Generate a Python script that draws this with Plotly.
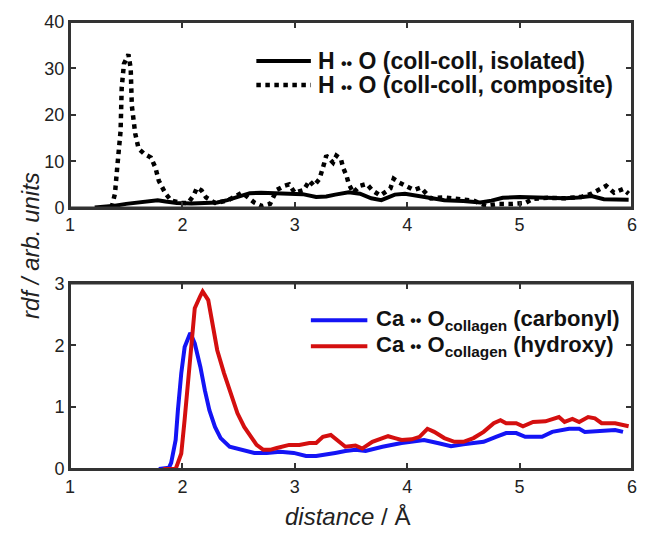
import plotly.graph_objects as go

# ---- data ----
iso_x = [1.22, 1.30, 1.40, 1.50, 1.60, 1.70, 1.78, 1.85, 1.95, 2.08, 2.20, 2.31, 2.40, 2.50, 2.60, 2.70,
         2.84, 2.95, 3.07, 3.19, 3.28, 3.36, 3.48, 3.58, 3.68, 3.77, 3.89, 3.98, 4.08, 4.20, 4.33, 4.50,
         4.65, 4.75, 4.85, 5.00, 5.12, 5.25, 5.40, 5.52, 5.64, 5.75, 5.85, 5.97]
iso_y = [0.0, 0.1, 0.4, 0.8, 1.1, 1.4, 1.6, 1.3, 1.0, 0.9, 0.9, 1.1, 1.6, 2.4, 3.1, 3.2,
         3.1, 3.0, 2.9, 2.3, 2.4, 2.8, 3.3, 3.0, 2.0, 1.6, 2.8, 3.0, 2.6, 2.0, 1.6, 1.4,
         1.1, 1.5, 2.1, 2.3, 2.2, 2.1, 2.0, 2.2, 2.5, 1.8, 1.7, 1.7]

comp_x = [1.37, 1.40, 1.42, 1.45, 1.46, 1.48, 1.52, 1.54, 1.55, 1.58, 1.61, 1.66, 1.72, 1.76, 1.79, 1.85,
          1.90, 1.99, 2.05, 2.10, 2.13, 2.17, 2.21, 2.29, 2.40, 2.53, 2.64, 2.71, 2.78, 2.84, 2.91, 2.95,
          3.00, 3.08, 3.13, 3.17, 3.22, 3.24, 3.26, 3.28, 3.34, 3.37, 3.41, 3.43, 3.46, 3.48, 3.52, 3.58,
          3.64, 3.69, 3.76, 3.85, 3.88, 3.93, 4.00, 4.06, 4.12, 4.21, 4.33, 4.48, 4.59, 4.70, 4.82, 4.94,
          5.05, 5.12, 5.25, 5.40, 5.55, 5.64, 5.70, 5.77, 5.84, 5.92, 5.97]
comp_y = [0.0, 3.0, 8.6, 16.5, 25.8, 31.0, 33.0, 30.0, 22.0, 16.0, 12.7, 11.6, 10.8, 8.6, 5.8, 3.0,
          1.5, 1.0, 1.0, 2.6, 4.3, 3.7, 2.2, 1.0, 1.5, 3.2, 1.1, 0.3, 0.8, 3.8, 4.7, 5.0,
          3.2, 3.8, 5.8, 4.7, 6.2, 7.5, 9.4, 11.2, 9.7, 11.2, 10.5, 8.6, 6.9, 5.1, 3.2, 4.7,
          5.1, 3.7, 2.6, 4.1, 6.2, 5.4, 4.5, 3.8, 4.3, 2.0, 2.2, 1.7, 1.5, 0.4, 0.8, 0.8,
          1.0, 1.9, 2.1, 2.0, 2.3, 3.0, 3.7, 4.7, 3.2, 4.0, 3.0]

carb_x = [1.79, 1.88, 1.90, 1.94, 1.96, 1.99, 2.02, 2.05, 2.07, 2.11, 2.16, 2.20, 2.24, 2.29, 2.34, 2.42,
          2.52, 2.64, 2.75, 2.87, 2.99, 3.10, 3.19, 3.28, 3.36, 3.45, 3.54, 3.63, 3.78, 3.95, 4.15, 4.27,
          4.39, 4.50, 4.68, 4.79, 4.88, 4.97, 5.05, 5.20, 5.29, 5.44, 5.53, 5.58, 5.67, 5.76, 5.85, 5.92]
carb_y = [0.0, 0.02, 0.1, 0.47, 0.95, 1.55, 1.97, 2.13, 2.2, 2.03, 1.65, 1.27, 0.95, 0.68, 0.5, 0.36,
          0.31, 0.26, 0.26, 0.28, 0.26, 0.21, 0.21, 0.23, 0.26, 0.29, 0.31, 0.29, 0.36, 0.42, 0.47, 0.42,
          0.37, 0.4, 0.44, 0.52, 0.58, 0.58, 0.52, 0.52, 0.6, 0.65, 0.65, 0.6, 0.61, 0.63, 0.63, 0.6]

hyd_x = [1.83, 1.94, 1.96, 1.99, 2.02, 2.05, 2.08, 2.11, 2.16, 2.18, 2.23, 2.27, 2.31, 2.37, 2.43, 2.49,
         2.55, 2.61, 2.66, 2.72, 2.78, 2.84, 2.88, 2.95, 3.04, 3.13, 3.19, 3.25, 3.32, 3.39, 3.45, 3.54,
         3.60, 3.69, 3.83, 3.89, 3.95, 4.04, 4.11, 4.18, 4.24, 4.33, 4.42, 4.50, 4.59, 4.68, 4.77, 4.83,
         4.88, 4.97, 5.03, 5.12, 5.23, 5.35, 5.40, 5.47, 5.53, 5.61, 5.67, 5.73, 5.85, 5.97]
hyd_y = [0.0, 0.0, 0.1, 0.25, 0.8, 1.43, 2.08, 2.6, 2.8, 2.87, 2.73, 2.3, 1.92, 1.55, 1.23, 0.9,
         0.68, 0.52, 0.39, 0.31, 0.31, 0.34, 0.36, 0.39, 0.39, 0.42, 0.42, 0.52, 0.55, 0.44, 0.36, 0.38,
         0.33, 0.44, 0.53, 0.5, 0.47, 0.48, 0.52, 0.65, 0.6, 0.5, 0.44, 0.44, 0.5, 0.6, 0.74, 0.79,
         0.74, 0.74, 0.69, 0.76, 0.77, 0.84, 0.76, 0.81, 0.76, 0.84, 0.82, 0.74, 0.74, 0.69]

x_ticks = [1, 2, 3, 4, 5, 6]
top_y_ticks = [0, 10, 20, 30, 40]
bot_y_ticks = [0, 1, 2, 3]

DOTS = "<span style='font-size:16px'>••</span>"
top_labels = ["H " + DOTS + " O (coll-coll, isolated)",
              "H " + DOTS + " O (coll-coll, composite)"]
bot_labels = ["Ca " + DOTS + " O<sub>collagen</sub> (carbonyl)",
              "Ca " + DOTS + " O<sub>collagen</sub> (hydroxy)"]

BLUE = "#1414F5"
RED = "#D40F0F"
FONT = "Arial, Liberation Sans, Helvetica, sans-serif"

fig = go.Figure()
fig.add_trace(go.Scatter(x=iso_x, y=iso_y, mode="lines", line=dict(color="black", width=4),
                         xaxis="x", yaxis="y", showlegend=False))
fig.add_trace(go.Scatter(x=comp_x, y=comp_y, mode="lines", line=dict(color="black", width=4.5, dash="dot"),
                         xaxis="x", yaxis="y", showlegend=False))
fig.add_trace(go.Scatter(x=carb_x, y=carb_y, mode="lines", line=dict(color=BLUE, width=4),
                         xaxis="x2", yaxis="y2", showlegend=False))
fig.add_trace(go.Scatter(x=hyd_x, y=hyd_y, mode="lines", line=dict(color=RED, width=4),
                         xaxis="x2", yaxis="y2", showlegend=False))

axis_common = dict(showline=True, linecolor="#333333", linewidth=2, mirror="ticks",
                   ticks="inside", ticklen=6, tickcolor="#333333", tickwidth=1.5,
                   showgrid=False, zeroline=False,
                   tickfont=dict(family=FONT, size=18, color="#222222"))

# page body has an 8px margin -> figure offset so the plot areas land at the reference pixels
fig.update_layout(
    width=633, height=526,
    margin=dict(l=62, r=4, t=13, b=65),
    plot_bgcolor="white", paper_bgcolor="white",
    xaxis=dict(domain=[0, 1], range=[1, 6], tickvals=x_ticks, anchor="y", **axis_common),
    yaxis=dict(domain=[0.5848, 1], range=[0, 40], tickvals=top_y_ticks, anchor="x", **axis_common),
    xaxis2=dict(domain=[0, 1], range=[1, 6], tickvals=x_ticks, anchor="y2", **axis_common),
    yaxis2=dict(domain=[0, 0.4152], range=[0, 3], tickvals=bot_y_ticks, anchor="x2", **axis_common),
)

# frames and legend samples (decoration)
shapes = [
    dict(type="rect", xref="x domain", yref="y domain", x0=0, x1=1, y0=0, y1=1,
         line=dict(color="#333333", width=2), layer="above"),
    dict(type="rect", xref="x2 domain", yref="y2 domain", x0=0, x1=1, y0=0, y1=1,
         line=dict(color="#333333", width=2), layer="above"),
]
leg_rows_top = [(0.9129, dict(color="black", width=4)), (0.859, dict(color="black", width=4.5, dash="dot"))]
for (yy, ln) in leg_rows_top:
    shapes.append(dict(type="line", xref="paper", yref="paper", x0=0.3316, x1=0.4286, y0=yy, y1=yy, line=ln))
leg_rows_bot = [(0.3326, dict(color=BLUE, width=4)), (0.2746, dict(color=RED, width=4))]
for (yy, ln) in leg_rows_bot:
    shapes.append(dict(type="line", xref="paper", yref="paper", x0=0.4286, x1=0.5291, y0=yy, y1=yy, line=ln))
fig.update_layout(shapes=shapes)

ann = []
for lab, yy in zip(top_labels, [0.9129, 0.859]):
    ann.append(dict(text="<b>" + lab + "</b>", xref="paper", yref="paper", x=0.4374, y=yy,
                    xanchor="left", yanchor="middle", showarrow=False,
                    font=dict(family=FONT, size=23, color="#111111")))
for lab, yy in zip(bot_labels, [0.3326, 0.2746]):
    ann.append(dict(text="<b>" + lab + "</b>", xref="paper", yref="paper", x=0.5414, y=yy,
                    xanchor="left", yanchor="middle", showarrow=False,
                    font=dict(family=FONT, size=22, color="#111111")))
ann.append(dict(text="<i>rdf / arb. units</i>", xref="paper", yref="paper", x=-0.0705, y=0.5,
                xanchor="center", yanchor="middle", textangle=-90, showarrow=False,
                font=dict(family=FONT, size=24, color="#222222")))
ann.append(dict(text="<i>distance</i> / Å", xref="paper", yref="paper", x=0.4938, y=-0.1071,
                xanchor="center", yanchor="middle", showarrow=False,
                font=dict(family=FONT, size=24, color="#222222")))
fig.update_layout(annotations=ann)

fig.write_html("out.html")
